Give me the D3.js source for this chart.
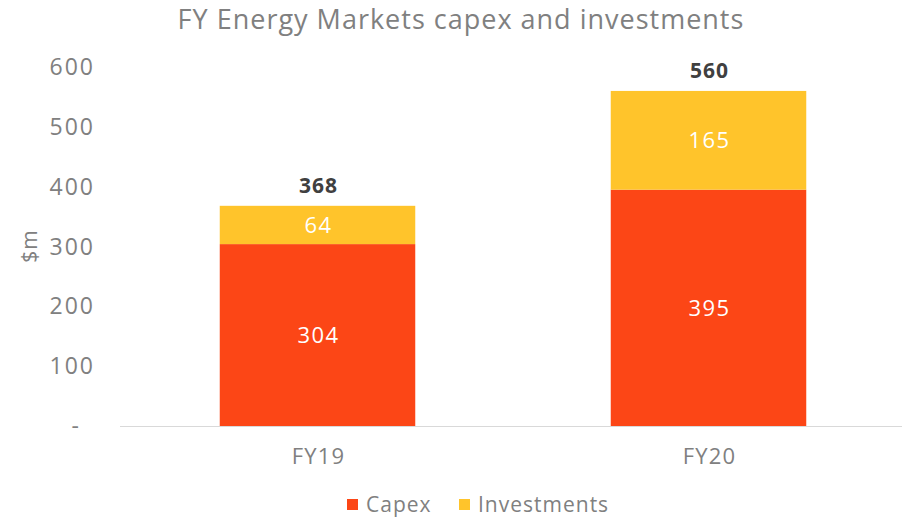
<!DOCTYPE html>
<html>
<head>
<meta charset="utf-8">
<script src="https://cdn.jsdelivr.net/npm/d3@7"></script>
<style>
  body { margin: 0; background: #fff; }
  svg { font-family: "Open Sans", Lato, sans-serif; }
</style>
</head>
<body>
<svg id="chart" width="902" height="520"></svg>
<script>
// data
const years = ["FY19", "FY20"]
const capex = [304, 395]
const investments = [64, 165]
const yTicks = [0, 100, 200, 300, 400, 500, 600]
const seriesNames = ["Capex", "Investments"]

const colors = ["#FC4616", "#FFC42B"]
const grey = "#808080"

const svg = d3.select("#chart")
const margin = { left: 122, right: -2, top: 67, bottom: 94 }
const W = 902, H = 520

const x = d3.scaleBand().domain(years)
    .range([margin.left, W - margin.right])
    .paddingInner(0.5).paddingOuter(0.25)
const y = d3.scaleLinear().domain([0, 600]).range([H - margin.bottom, margin.top])

// title
svg.append("text")
    .attr("x", 461).attr("y", 29)
    .attr("text-anchor", "middle")
    .style("font-size", "27px").style("letter-spacing", "1px").style("fill", grey)
    .text("FY Energy Markets capex and investments")

// y axis label
svg.append("text")
    .attr("transform", "translate(37,246) rotate(-90)")
    .attr("text-anchor", "middle")
    .style("font-size", "21px").style("letter-spacing", "1px").style("fill", grey)
    .text("$m")

// y ticks (no line)
svg.append("g").selectAll("text")
    .data(yTicks)
    .join("text")
    .attr("x", d => d == 0 ? 81 : 95)
    .attr("y", d => y(d))
    .attr("dy", "0.35em")
    .attr("text-anchor", "end")
    .style("font-size", "23px").style("letter-spacing", "2px").style("fill", grey)
    .text(d => d == 0 ? "-" : d)

// stacked data
const rows = years.map((yr, i) => ({ year: yr, Capex: capex[i], Investments: investments[i] }))
const stack = d3.stack().keys(seriesNames)(rows)

const layer = svg.append("g").selectAll("g")
    .data(stack)
    .join("g")
    .attr("fill", (d, i) => colors[i])

layer.selectAll("rect")
    .data(d => d)
    .join("rect")
    .attr("x", d => x(d.data.year))
    .attr("width", x.bandwidth())
    .attr("y", d => y(d[1]))
    .attr("height", d => y(d[0]) - y(d[1]))

// inside labels
layer.selectAll("text")
    .data(d => d)
    .join("text")
    .attr("x", d => x(d.data.year) + x.bandwidth() / 2 + 1)
    .attr("y", d => (y(d[0]) + y(d[1])) / 2)
    .attr("dy", "0.35em")
    .attr("text-anchor", "middle")
    .style("font-size", "22px").style("letter-spacing", "1.5px").style("fill", "#fff")
    .text(d => d[1] - d[0])

// totals
svg.append("g").selectAll("text")
    .data(rows)
    .join("text")
    .attr("x", d => x(d.year) + x.bandwidth() / 2 + 1)
    .attr("y", d => y(d.Capex + d.Investments) - 13)
    .attr("text-anchor", "middle")
    .style("font-size", "21px").style("letter-spacing", "1px")
    .style("font-weight", "bold").style("fill", "#404040")
    .text(d => d.Capex + d.Investments)

// x axis line
svg.append("line")
    .attr("x1", 120).attr("x2", W)
    .attr("y1", y(0) + 0.5).attr("y2", y(0) + 0.5)
    .attr("stroke", "#d9d9d9").attr("stroke-width", 1)

// category labels
svg.append("g").selectAll("text")
    .data(years)
    .join("text")
    .attr("x", d => x(d) + x.bandwidth() / 2 + 1)
    .attr("y", y(0) + 38)
    .attr("text-anchor", "middle")
    .style("font-size", "22px").style("letter-spacing", "1.2px").style("fill", grey)
    .text(d => d)

// legend
const legX = [347, 459]
const leg = svg.append("g").selectAll("g")
    .data(seriesNames)
    .join("g")
    .attr("transform", (d, i) => `translate(${legX[i]},499)`)
leg.append("rect").attr("width", 11).attr("height", 11).attr("fill", (d, i) => colors[i])
leg.append("text")
    .attr("x", 19).attr("y", 6).attr("dy", "0.35em")
    .style("font-size", "21px").style("letter-spacing", "1px").style("fill", grey)
    .text(d => d)
</script>
</body>
</html>
